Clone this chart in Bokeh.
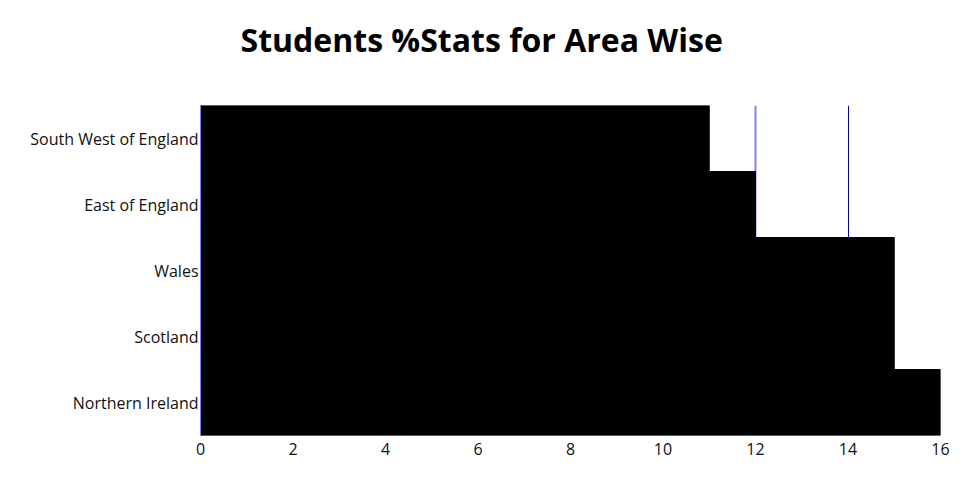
from bokeh.plotting import figure
from bokeh.models import FixedTicker, Grid, Title, ColumnDataSource
from bokeh.embed import file_html
from bokeh.resources import INLINE

areas = ["South West of England", "East of England", "Wales", "Scotland", "Northern Ireland"]
values = [11, 12, 15, 15, 16]
x_ticks = [0, 2, 4, 6, 8, 10, 12, 14, 16]
title_text = "Students %Stats for Area Wise"

src = ColumnDataSource(dict(area=areas, value=values))

p = figure(width=952, height=484, y_range=list(reversed(areas)), x_range=(0, 16),
           output_backend="svg", toolbar_location=None,
           min_border_left=200, min_border_right=12, min_border_top=105, min_border_bottom=49)
p.outline_line_color = None
p.hbar(y="area", right="value", left=0, height=1.0, source=src,
       fill_color="black", line_color="black", line_width=1)

p.xgrid.visible = False
p.ygrid.visible = False
g1 = Grid(dimension=0, ticker=FixedTicker(ticks=[0, 4, 8, 12, 16]), grid_line_color="#8080ff", grid_line_width=2)
g2 = Grid(dimension=0, ticker=FixedTicker(ticks=[2, 6, 10, 14]), grid_line_color="#0000cc", grid_line_width=1)
p.add_layout(g1)
p.add_layout(g2)

p.xaxis.ticker = FixedTicker(ticks=x_ticks)
for ax in (p.xaxis[0], p.yaxis[0]):
    ax.axis_line_color = None
    ax.major_tick_line_color = None
    ax.minor_tick_line_color = None
    ax.major_label_text_font = "Open Sans"
    ax.major_label_text_font_size = "16px"
    ax.major_label_text_color = "#111111"
p.yaxis.axis_line_color = "#8080ff"
p.yaxis.axis_line_width = 1
p.xaxis.major_label_standoff = 1
p.yaxis.major_label_standoff = -4

spacer = Title(text=" ", text_font_size="16px", standoff=24)
p.add_layout(spacer, "above")
t = Title(text=title_text, align="left", offset=40,
          text_font="Open Sans", text_font_size="32px", text_font_style="bold",
          text_color="black", standoff=4)
p.add_layout(t, "above")

open("out.html", "w").write(file_html(p, INLINE))
